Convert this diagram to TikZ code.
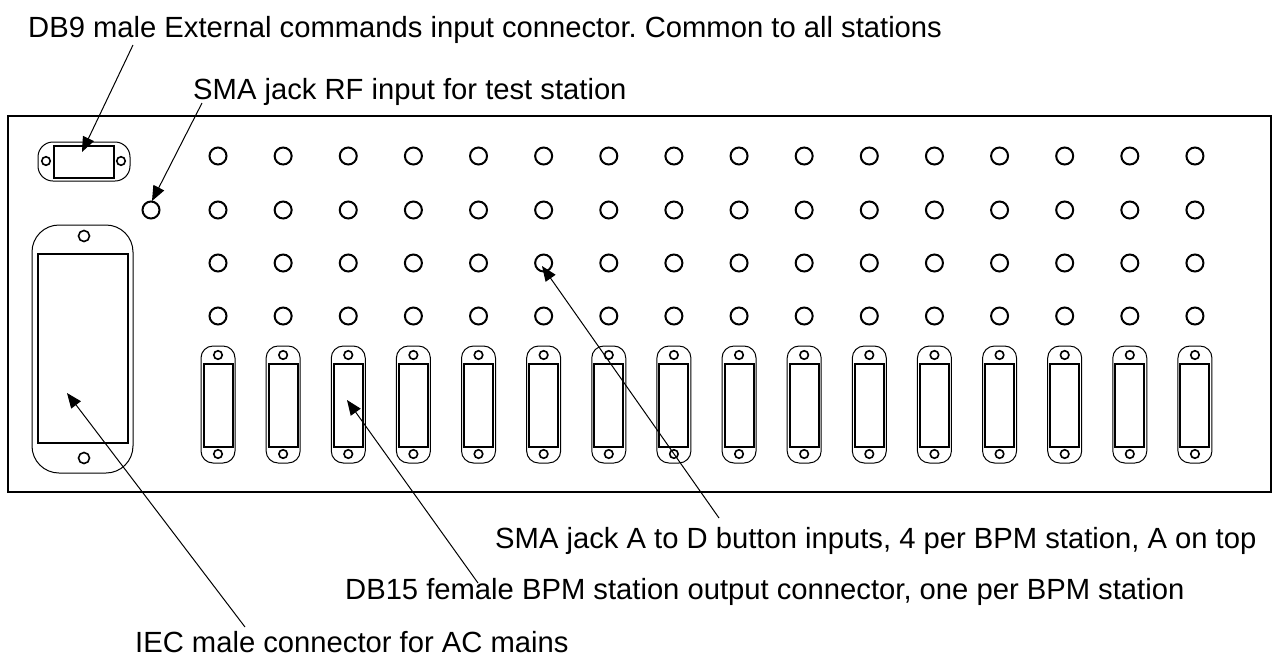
\documentclass[tikz,border=0pt]{standalone}
\usepackage{fontspec}
\setmainfont{Liberation Sans}
\usetikzlibrary{arrows.meta}
\frenchspacing
\tikzset{
  panel/.style={draw, line width=2pt},
  jack/.style={circle, draw, line width=2pt, minimum size=17pt, inner sep=0pt},
  hole/.style={circle, draw, line width=1.6pt, minimum size=8.5pt, inner sep=0pt},
  iechole/.style={hole, minimum size=11pt},
  shell/.style={draw, line width=1pt},
  window/.style={draw, line width=2pt, inner sep=0pt},
  lbl/.style={anchor=base west, inner sep=0pt, font=\fontsize{29.2}{34}\selectfont},
  pointer/.style={line width=1pt, -{Triangle[length=15pt,width=12pt]}},
}
\begin{document}
\begin{tikzpicture}[x=1pt,y=-1pt]
\useasboundingbox (0,0) rectangle (1275,665);
% front panel
\draw[panel] (8,116) rectangle (1271,492);
% DB9 connector
\draw[shell, rounded corners=15pt] (38,142) rectangle (130,181);
\node[window, minimum width=60pt, minimum height=32pt] (db9) at (84,162) {};
\node[hole] (db9l) at (46,161) {};
\node[hole] (db9r) at (121,161) {};
% RF test input
\node[jack] (rf) at (151,210) {};
% IEC connector
\draw[shell, rounded corners=27pt] (32,225) rectangle (133,473);
\node[window, minimum width=90pt, minimum height=189pt] (iec) at (83,348.5) {};
\node[iechole] (iect) at (84,236) {};
\node[iechole] (iecb) at (84,458) {};
% stations
\foreach \i in {0,...,15}{
  \pgfmathsetmacro\cx{218+65.13*\i}
  \foreach \r/\ry in {1/156,2/210,3/263,4/316}
    \node[jack] (j\i-\r) at (\cx,\ry) {};
  \draw[shell, rounded corners=12pt] (\cx-17,346) rectangle (\cx+17,463);
  \node[window, minimum width=29pt, minimum height=83pt] (db\i) at (\cx,405.5) {};
  \node[hole] (db\i-t) at (\cx,355) {};
  \node[hole] (db\i-b) at (\cx,454) {};
}
% labels
\node[lbl] (t1) at (28,37) {DB9 male External commands input connector. Common to all stations};
\node[lbl] (t2) at (193,99) {SMA jack RF input for test station};
\node[lbl] (t3) at (495,548) {SMA jack A to D button inputs, 4 per BPM station, A on top};
\node[lbl] (t4) at (345,599) {DB15 female BPM station output connector, one per BPM station};
\node[lbl] (t5) at (135,652) {IEC male connector for AC mains};
% pointers
\coordinate (p1s) at (133,45);  \coordinate (p1e) at (82,152);
\coordinate (p2s) at (202,103); \coordinate (p2e) at (152,201);
\coordinate (p3s) at (719,518); \coordinate (p3e) at (542,266);
\coordinate (p4s) at (478,583); \coordinate (p4e) at (347,400);
\coordinate (p5s) at (245,627); \coordinate (p5e) at (67,393);
\draw[pointer] (p1s) -- (p1e);
\draw[pointer] (p2s) -- (p2e);
\draw[pointer] (p3s) -- (p3e);
\draw[pointer] (p4s) -- (p4e);
\draw[pointer] (p5s) -- (p5e);
\end{tikzpicture}
\end{document}
